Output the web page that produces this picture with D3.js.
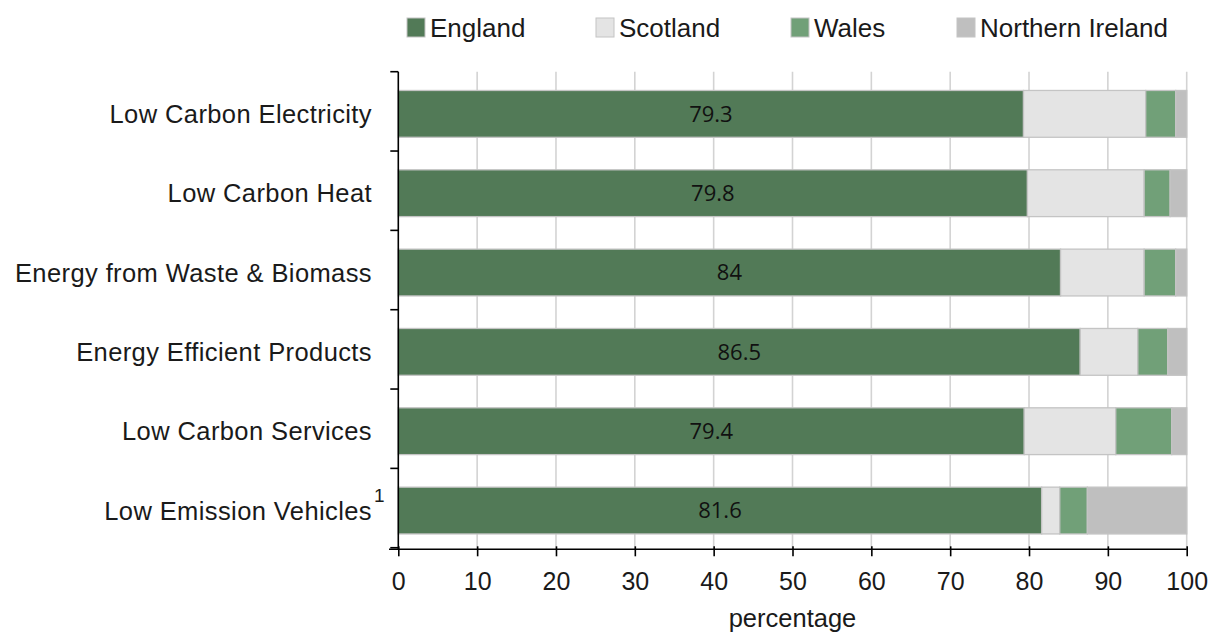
<!DOCTYPE html>
<html>
<head>
<meta charset="utf-8">
<script src="https://cdn.jsdelivr.net/npm/d3@7"></script>
<style>
  html, body { margin: 0; padding: 0; background: #ffffff; }
  svg { display: block; }
</style>
</head>
<body>
<svg id="chart" width="1210" height="636"></svg>
<script>
// ---- data ----
const categories = [
  "Low Carbon Electricity",
  "Low Carbon Heat",
  "Energy from Waste & Biomass",
  "Energy Efficient Products",
  "Low Carbon Services",
  "Low Emission Vehicles"
];
const footnotes = ["", "", "", "", "", "1"];
const seriesNames = ["England", "Scotland", "Wales", "Northern Ireland"];
const england  = [79.3, 79.8, 84.0, 86.5, 79.4, 81.6];
const scotland = [15.5, 14.8, 10.6, 7.3, 11.6, 2.3];
const wales    = [3.8, 3.3, 4.0, 3.8, 7.1, 3.5];
const nireland = [1.4, 2.1, 1.4, 2.4, 1.9, 12.6];
const xTicks = [0, 10, 20, 30, 40, 50, 60, 70, 80, 90, 100];
const xTitle = "percentage";

const colors = ["#527a57", "#e4e4e4", "#71a078", "#bfbfbf"];
const seriesValues = [england, scotland, wales, nireland];

const rows = categories.map((c, i) => {
  const r = { category: c };
  seriesNames.forEach((s, j) => r[s] = seriesValues[j][i]);
  return r;
});
const stacked = d3.stack().keys(seriesNames)(rows);

const svg = d3.select("#chart");
const mLeft = 398.3, mRight = 1186.7, mTop = 71.7, mBottom = 549.3;

const x = d3.scaleLinear().domain([0, 100]).range([mLeft, mRight]);
const y = d3.scaleBand().domain(categories).range([mTop, mBottom])
  .paddingInner(0.41).paddingOuter(0.215).align(0.55);

// gridlines
svg.append("g").selectAll("line")
  .data(xTicks.filter(t => t > 0))
  .join("line")
  .attr("x1", d => x(d)).attr("x2", d => x(d))
  .attr("y1", mTop).attr("y2", mBottom)
  .attr("stroke", "#d3d3d3").attr("stroke-width", 1.6);

// bars
svg.append("g").selectAll("g")
  .data(stacked)
  .join("g")
  .attr("fill", (d, i) => colors[i])
  .selectAll("rect")
  .data(d => d)
  .join("rect")
  .attr("x", d => x(d[0]))
  .attr("width", d => x(d[1]) - x(d[0]))
  .attr("y", d => y(d.data.category))
  .attr("height", y.bandwidth())
  .attr("stroke", "#c4c4c4")
  .attr("stroke-width", 1.3);

// value labels for England
svg.append("g").selectAll("text")
  .data(stacked[0])
  .join("text")
  .attr("x", d => x((d[0] + d[1]) / 2))
  .attr("y", d => y(d.data.category) + y.bandwidth() / 2)
  .attr("dy", "0.36em")
  .attr("text-anchor", "middle")
  .attr("font-family", "'Open Sans', 'Noto Sans', sans-serif")
  .attr("font-size", 22)
  .attr("fill", "#111")
  .text(d => d3.format("")(england[categories.indexOf(d.data.category)]));

// y axis
const yAxisG = svg.append("g").attr("transform", `translate(${mLeft},0)`);
yAxisG.append("line")
  .attr("x1", 0).attr("x2", 0).attr("y1", mTop).attr("y2", mBottom)
  .attr("stroke", "#000").attr("stroke-width", 1.6);
const yBounds = d3.range(categories.length + 1).map(i => mTop + i * y.step());
yAxisG.selectAll("line.tick")
  .data(yBounds)
  .join("line")
  .attr("class", "tick")
  .attr("x1", -8).attr("x2", 0)
  .attr("y1", d => d).attr("y2", d => d)
  .attr("stroke", "#000").attr("stroke-width", 1.6);

svg.append("g").selectAll("text")
  .data(categories)
  .join("text")
  .attr("x", 372)
  .attr("y", d => y(d) + y.bandwidth() / 2 + 9)
  .attr("text-anchor", "end")
  .attr("font-family", "'Liberation Sans', Arial, sans-serif")
  .attr("font-size", 25.5)
  .attr("letter-spacing", "0.4px")
  .attr("fill", "#1a1a1a")
  .text(d => d);

svg.append("g").selectAll("text")
  .data(categories.filter((c, i) => footnotes[i]))
  .join("text")
  .attr("x", 374)
  .attr("y", d => y(d) + y.bandwidth() / 2 - 9)
  .attr("font-family", "'Liberation Sans', Arial, sans-serif")
  .attr("font-size", 19)
  .attr("fill", "#1a1a1a")
  .text(d => footnotes[categories.indexOf(d)]);

// x axis
const xAxis = d3.axisBottom(x).tickValues(xTicks).tickSize(7).tickPadding(16)
  .tickFormat(d3.format("d"));
const xAxisG = svg.append("g").attr("transform", `translate(0,${mBottom})`).call(xAxis);
xAxisG.select(".domain").remove();
xAxisG.insert("line", ":first-child")
  .attr("x1", 389).attr("x2", mRight).attr("y1", 0).attr("y2", 0)
  .attr("stroke", "#000").attr("stroke-width", 1.6);
xAxisG.selectAll(".tick line").attr("y1", -3).attr("stroke", "#000").attr("stroke-width", 1.6);
xAxisG.selectAll(".tick text")
  .attr("font-family", "'Liberation Sans', Arial, sans-serif")
  .attr("font-size", 25)
  .attr("fill", "#1a1a1a");

svg.append("text")
  .attr("x", (mLeft + mRight) / 2)
  .attr("y", 627)
  .attr("text-anchor", "middle")
  .attr("font-family", "'Liberation Sans', Arial, sans-serif")
  .attr("font-size", 25.5)
  .attr("fill", "#1a1a1a")
  .text(xTitle);

// legend
const legendX = [407, 596, 791, 957];
const legend = svg.append("g").selectAll("g")
  .data(seriesNames)
  .join("g")
  .attr("transform", (d, i) => `translate(${legendX[i]},18)`);
legend.append("rect")
  .attr("width", 18).attr("height", 19)
  .attr("fill", (d, i) => colors[i])
  .attr("stroke", "#c4c4c4").attr("stroke-width", 1);
legend.append("text")
  .attr("x", 23).attr("y", 18.5)
  .attr("font-family", "'Liberation Sans', Arial, sans-serif")
  .attr("font-size", 26)
  .attr("fill", "#1a1a1a")
  .text(d => d);
</script>
</body>
</html>
